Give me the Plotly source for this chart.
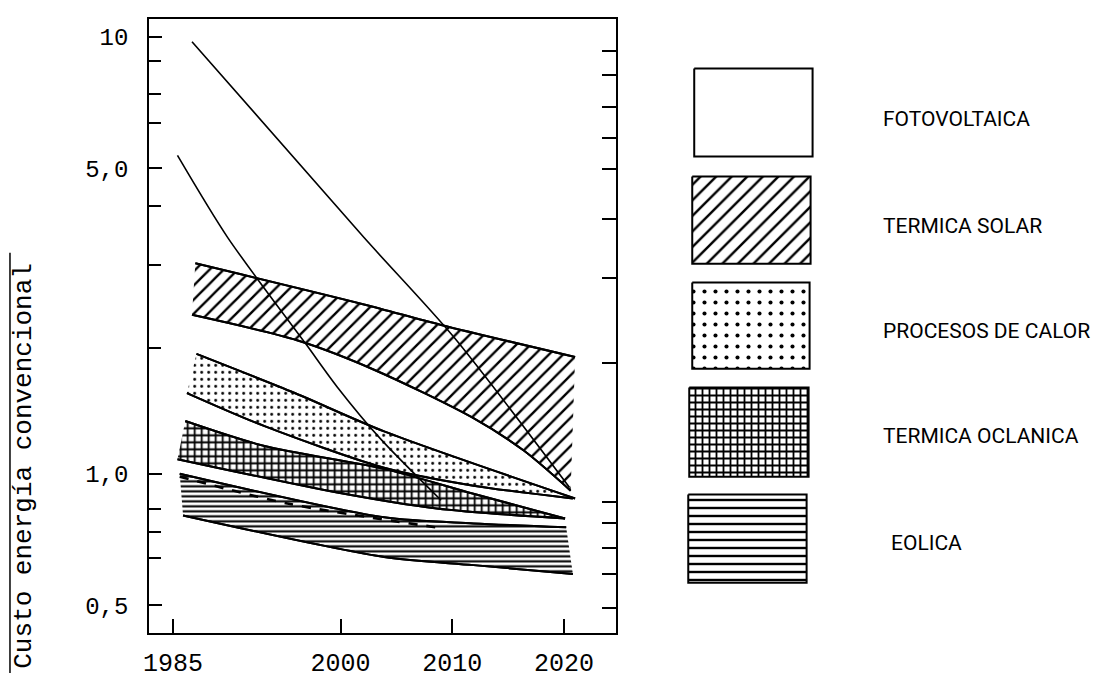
import plotly.graph_objects as go

# ---------------- data ----------------
x_tick_years = [1985, 2000, 2010, 2020]
x_tick_labels = ["1985", "2000", "2010", "2020"]
y_tick_vals = [0.5, 1, 5, 10]
y_tick_labels = ["0,5", "1,0", "5,0", "10"]
y_minor_ticks = [8.8, 7.4, 6.35, 4.1, 3.0, 1.94, 0.83, 0.735, 0.64]
y_right_ticks = [9.25, 8.16, 6.9, 5.87, 4.99, 3.83, 2.80, 1.79, 0.864, 0.77, 0.676, 0.59, 0.494]

# Fotovoltaica (two bounding lines)
fv_upper_years = [1986.7, 2002.1, 2010.1, 2020.5]
fv_upper_vals = [9.74, 3.47, 2.06, 0.93]
fv_lower_years = [1985.4, 1989.9, 1996.9, 1999.7, 2003.6, 2009.0]
fv_lower_vals = [5.35, 3.47, 1.98, 1.58, 1.20, 0.87]

# Termica solar
solar_upper_years = [1987.0, 2002.1, 2009.0, 2021.0]
solar_upper_vals = [3.03, 2.44, 2.19, 1.85]
solar_lower_years = [1986.7, 1996.1, 2003.0, 2011.9, 2016.4, 2020.6]
solar_lower_vals = [2.31, 2.02, 1.73, 1.34, 1.13, 0.915]

# Procesos de calor
calor_upper_years = [1987.1, 1995.9, 2003.9, 2021.0]
calor_upper_vals = [1.88, 1.53, 1.25, 0.878]
calor_lower_years = [1986.25, 1993.2, 2003.9, 2011.9, 2020.8]
calor_lower_vals = [1.53, 1.285, 1.032, 0.939, 0.878]

# Termica oceanica
ocean_upper_years = [1986.1, 1993.2, 2003.9, 2011.9, 2020.1]
ocean_upper_vals = [1.32, 1.157, 1.026, 0.90, 0.79]
ocean_lower_years = [1985.4, 1999.7, 2008.6, 2020.1]
ocean_lower_vals = [1.08, 0.906, 0.833, 0.79]

# Eolica
eol_upper_years = [1985.6, 2003.9, 2011.9, 2020.2]
eol_upper_vals = [1.0, 0.795, 0.77, 0.754]
eol_lower_years = [1985.9, 2003.9, 2011.9, 2020.8]
eol_lower_vals = [0.803, 0.645, 0.618, 0.59]
eol_inner_years = [1985.6, 1995.25, 2009.2]
eol_inner_vals = [0.985, 0.855, 0.75]

legend_labels = ["FOTOVOLTAICA", "TERMICA SOLAR", "PROCESOS DE CALOR",
                 "TERMICA OCLANICA", "EOLICA"]

y_title = "Custo energía convencional"

# ---------------- layout constants ----------------
W, H = 1100, 679
PL, PR, PT, PB = 144, 613, 19, 639     # plot box in px
BLACK = "black"
CLEAR = "rgba(0,0,0,0)"
MONO = "Liberation Mono, Courier New, monospace"
SANS = "Roboto, Liberation Sans, sans-serif"
SMOOTH = 0.8

fig = go.Figure()


def pat(shape, size, solidity):
    return dict(shape=shape, size=size, solidity=solidity,
                fgcolor=BLACK, bgcolor="white", fillmode="replace")


def band(up_x, up_y, lo_x, lo_y, pattern):
    # lower edge first, then upper edge filled down to it (tonexty)
    fig.add_trace(go.Scatter(
        x=lo_x, y=lo_y, mode="lines",
        line=dict(color=BLACK, width=2, shape="spline", smoothing=SMOOTH),
        hoverinfo="skip", showlegend=False))
    fig.add_trace(go.Scatter(
        x=up_x, y=up_y, mode="lines", fill="tonexty", fillcolor="white",
        fillpattern=pattern,
        line=dict(color=BLACK, width=2, shape="spline", smoothing=SMOOTH),
        hoverinfo="skip", showlegend=False))


def edge(xs, ys, width=2.0, dash="solid"):
    fig.add_trace(go.Scatter(
        x=xs, y=ys, mode="lines",
        line=dict(color=BLACK, width=width, dash=dash, shape="spline", smoothing=SMOOTH),
        hoverinfo="skip", showlegend=False))


band(solar_upper_years, solar_upper_vals, solar_lower_years, solar_lower_vals, pat("/", 10, 0.24))
band(calor_upper_years, calor_upper_vals, calor_lower_years, calor_lower_vals, pat(".", 7, 0.13))
band(ocean_upper_years, ocean_upper_vals, ocean_lower_years, ocean_lower_vals, pat("+", 7, 0.45))
band(eol_upper_years, eol_upper_vals, eol_lower_years, eol_lower_vals, pat("-", 5, 0.42))

# redraw the edges on top so no fill hides them
for xs, ys in [(solar_upper_years, solar_upper_vals), (solar_lower_years, solar_lower_vals),
               (calor_upper_years, calor_upper_vals), (calor_lower_years, calor_lower_vals),
               (ocean_upper_years, ocean_upper_vals), (ocean_lower_years, ocean_lower_vals),
               (eol_upper_years, eol_upper_vals), (eol_lower_years, eol_lower_vals)]:
    edge(xs, ys, 2.0)
edge(eol_inner_years, eol_inner_vals, 2.6, "dash")
edge(fv_upper_years, fv_upper_vals, 1.6)
edge(fv_lower_years, fv_lower_vals, 1.6)

# dummy trace so the right-hand tick axis renders
fig.add_trace(go.Scatter(x=[None], y=[None], yaxis="y3", showlegend=False, hoverinfo="skip"))

# ---------------- legend (drawn on an overlay pixel axis) ----------------
legend_boxes = [(692, 69, 811, 158), (690, 178, 809, 266), (690, 285, 808, 372),
                (687, 391, 807, 481), (686, 499, 805, 588)]
legend_patterns = [None, pat("/", 11, 0.22), pat(".", 11, 0.11), pat("+", 7, 0.45), pat("-", 8, 0.3)]
legend_text_pos = [(880, 120), (880, 228), (880, 334), (880, 440), (888, 548)]

for (x0, y0, x1, y1), p in zip(legend_boxes, legend_patterns):
    kw = dict(fillpattern=p) if p else {}
    fig.add_trace(go.Scatter(
        x=[x0, x1, x1, x0, x0], y=[y0, y0, y1, y1, y0],
        xaxis="x2", yaxis="y2", mode="lines", fill="toself", fillcolor="white",
        line=dict(color=BLACK, width=2), hoverinfo="skip", showlegend=False, **kw))

annotations = []
for (tx, ty), lab in zip(legend_text_pos, legend_labels):
    annotations.append(dict(x=tx, y=ty, xref="x2", yref="y2", text=lab, showarrow=False,
                            xanchor="left", yanchor="middle",
                            font=dict(family=SANS, size=21, color=BLACK)))

annotations.append(dict(x=18 / W, y=1 - 470 / H, xref="paper", yref="paper",
                        text=y_title, textangle=-90, showarrow=False,
                        xanchor="center", yanchor="middle",
                        font=dict(family=MONO, size=26, color=BLACK)))

shapes = [dict(type="line", xref="paper", yref="paper",
               x0=4 / W, x1=4 / W, y0=1 - 255 / H, y1=0,
               line=dict(color=BLACK, width=1.5))]

fig.update_layout(
    width=W, height=H, margin=dict(l=0, r=0, t=0, b=0),
    paper_bgcolor="white", plot_bgcolor=CLEAR,
    showlegend=False, annotations=annotations, shapes=shapes,
    xaxis=dict(domain=[PL / W, PR / W], range=[1982.87, 2024.63],
               tickmode="array", tickvals=x_tick_years, ticktext=x_tick_labels,
               ticks="inside", ticklen=14, tickwidth=2, tickcolor=BLACK,
               showline=True, linewidth=2, linecolor=BLACK, mirror=True,
               showgrid=False, zeroline=False, ticklabelstandoff=6,
               tickfont=dict(family=MONO, size=25, color=BLACK)),
    yaxis=dict(domain=[1 - PB / H, 1 - PT / H], type="log", range=[-0.3651, 1.0408],
               tickmode="array", tickvals=y_tick_vals, ticktext=y_tick_labels,
               ticks="inside", ticklen=13, tickwidth=2, tickcolor=BLACK,
               minor=dict(tickmode="array", tickvals=y_minor_ticks, ticks="inside",
                          ticklen=12, tickwidth=2, tickcolor=BLACK, showgrid=False),
               showline=True, linewidth=2, linecolor=BLACK, mirror=True,
               showgrid=False, zeroline=False, ticklabelstandoff=14,
               tickfont=dict(family=MONO, size=24, color=BLACK)),
    yaxis3=dict(overlaying="y", side="right", anchor="x", type="log",
                range=[-0.3651, 1.0408], tickmode="array", tickvals=y_right_ticks,
                ticks="inside", ticklen=14, tickwidth=2, tickcolor=BLACK,
                showticklabels=False, showline=False, showgrid=False, zeroline=False),
    xaxis2=dict(domain=[0, 1], range=[0, W], visible=False, anchor="y2", fixedrange=True),
    yaxis2=dict(domain=[0, 1], range=[H, 0], visible=False, anchor="x2", fixedrange=True),
)

fig.write_html("out.html", config={"displayModeBar": False},
               post_script="document.body.style.margin='0';document.body.style.overflow='hidden';")
